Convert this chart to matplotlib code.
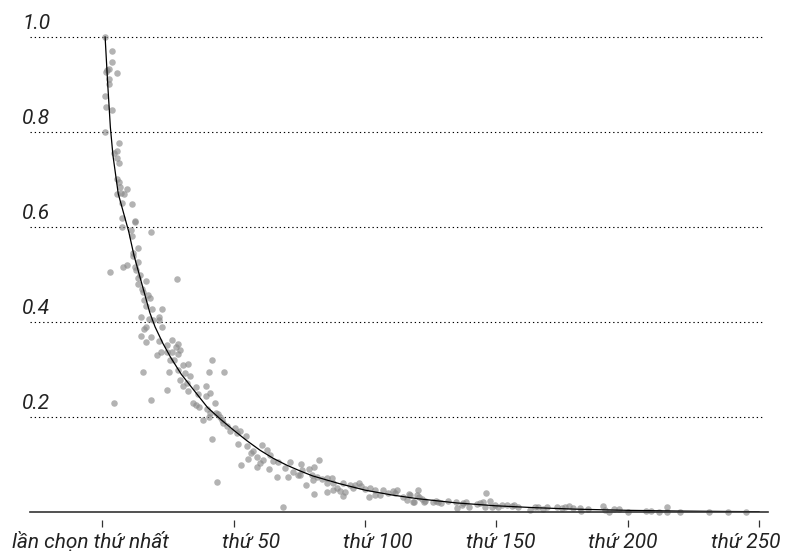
import numpy as np
import matplotlib.pyplot as plt

plt.rcParams['font.family'] = ['Roboto', 'DejaVu Sans']

# duong cong (gia tri doc tu hinh)
curve_x = [1, 2, 3, 4, 5, 6, 8, 10, 12, 14, 16, 18, 20, 23, 26, 30, 35, 40, 45, 50,
           55, 60, 65, 70, 75, 80, 90, 100, 110, 120, 135, 150, 165, 180, 200, 220, 240, 250]
curve_y = [1.00, 0.90, 0.81, 0.75, 0.71, 0.67, 0.63, 0.59, 0.54, 0.50, 0.46, 0.42, 0.39,
           0.355, 0.325, 0.29, 0.255, 0.22, 0.195, 0.172, 0.150, 0.130, 0.113, 0.099,
           0.087, 0.076, 0.060, 0.046, 0.036, 0.028, 0.019, 0.013, 0.009, 0.006, 0.0035,
           0.002, 0.001, 0.0007]

# cac diem quan sat
point_x = [1, 3.5, 3.5, 1.6, 1.3, 2.6, 5.4, 2.5, 2.5, 1, 1.3, 3.5, 1, 6.4, 5.4, 4.5,
           5.6, 6.4, 5.4, 6.4, 9.5, 6.7, 5.6, 6.9, 8.3, 7.3, 11.4, 7.5, 12.4, 12.4, 7.3,
           10.7, 18.5, 11.1, 11.7, 11.5, 13.4, 13.4, 7.7, 9.5, 2.9, 12.4, 12.6,
           14.3, 13.4, 13.6, 16.6, 28.5, 15.2, 15.5, 17.2, 18.1, 15.9, 16.6, 19.0, 22.5,
           14.5, 17.8, 19.3, 21.5, 21.5, 16.6, 15.9, 22.5, 14.5, 18.5, 16.4, 21.6,
           26.3, 24.4, 28.6, 28.0, 29.5, 20.6, 22.2, 24.4, 26.5, 28.6, 25.7, 27.2,
           30.5, 32.4, 15.5, 25.4, 28.9, 31.4, 33.3, 29.5, 30.8, 32.3, 35.6, 39.4,
           41.6, 40.6, 24.4, 32.7, 36.5, 39.4, 40.9, 34.3, 35.6, 36.9, 4.4, 18.5,
           39.7, 40.9, 42.8, 43.3,
           46.4, 44.1, 44.7, 45.4, 38.4, 40.7, 46.0, 47.3, 48.6, 50.5, 52.4, 51.3,
           54.6, 51.7, 41.6, 55.1, 56.4, 57.4, 58.7, 60.6, 62.5, 55.5, 58.7, 60.0,
           61.2, 63.8, 65.0, 67.0, 52.6, 63.5, 66.6, 69.5, 70.8, 72.7, 74.6, 43.5, 68.6,
           71.4, 75.6, 75.9, 75.2, 77.5, 78.8, 79.7, 80.7, 80.0, 81.6, 82.6, 80.7,
           83.5, 85.6, 85.4, 87.3, 87.9, 85.6, 87.9, 89.2, 90.4, 91.7, 92.3, 91.7,
           94.3, 95.5, 97.7, 98.4, 96.2, 100.0, 101.6, 101.9, 103.8, 103.8, 105.7, 106.9,
           108.8, 110.7, 111.4, 112.0, 114.5, 115.8, 116.8, 118.4, 120.3, 120.6,
           117.1, 118.6, 119.6, 121.6, 122.4, 122.8, 125.7, 127.0, 127.9, 128.8, 131.7,
           134.6, 134.9, 136.8, 137.4, 138.4, 139.7, 142.5, 143.8, 145.0, 146.0, 145.7,
           147.6, 148.2, 149.5, 150.7, 152.0, 153.9, 155.8, 156.7, 158.3,
           162.8, 164.7, 166.0, 167.9, 169.4, 173.0, 174.9, 176.1,
           177.8, 179.2, 181.8, 182.1, 185.0, 190.7, 191.4, 193.0, 194.8, 196.8, 200.0,
           207.0, 208.8, 211.9, 214.8, 214.8, 219.9, 231.1, 238.1, 245.0]
point_y = [1.0, 0.971, 0.947, 0.93, 0.926, 0.932, 0.925, 0.911, 0.901, 0.875, 0.853,
           0.846, 0.80, 0.776, 0.761, 0.756, 0.745, 0.734, 0.70, 0.695, 0.68, 0.685,
           0.669, 0.671, 0.669, 0.651, 0.648, 0.618, 0.613, 0.611, 0.60,
           0.594, 0.59, 0.58, 0.545, 0.539, 0.555, 0.527, 0.516, 0.521, 0.506, 0.516,
           0.509, 0.499, 0.492, 0.481, 0.486, 0.49, 0.469, 0.464, 0.457, 0.45, 0.446,
           0.434, 0.427, 0.427, 0.411, 0.406, 0.404, 0.411, 0.404, 0.389, 0.385, 0.389,
           0.371, 0.368, 0.358, 0.359, 0.362, 0.352, 0.354, 0.347, 0.341, 0.331, 0.337,
           0.337, 0.337, 0.332, 0.32, 0.32, 0.309, 0.311, 0.295, 0.294, 0.299, 0.292,
           0.286, 0.278, 0.265, 0.272, 0.264, 0.265, 0.32, 0.295, 0.257, 0.255, 0.248,
           0.244, 0.25, 0.229, 0.225, 0.222, 0.23, 0.236, 0.216, 0.208, 0.229, 0.209,
           0.295, 0.206, 0.199, 0.194, 0.194, 0.199, 0.188, 0.18, 0.171, 0.176, 0.171,
           0.166, 0.159, 0.143, 0.153, 0.139, 0.124, 0.129, 0.116, 0.141, 0.131, 0.111,
           0.094, 0.104, 0.109, 0.12, 0.108, 0.106, 0.099, 0.09, 0.074, 0.092, 0.074,
           0.085, 0.078, 0.064, 0.011,
           0.106, 0.10, 0.088, 0.078, 0.057, 0.09, 0.078, 0.094, 0.067, 0.074, 0.109,
           0.038, 0.069, 0.071, 0.06, 0.071, 0.06, 0.043, 0.046, 0.05, 0.045, 0.06,
           0.043, 0.034, 0.057, 0.05, 0.06, 0.055, 0.057, 0.048, 0.031, 0.05, 0.046,
           0.036, 0.036, 0.046, 0.041, 0.045, 0.041, 0.046, 0.031, 0.025, 0.038, 0.022,
           0.046, 0.032,
           0.036, 0.02, 0.036, 0.027, 0.02, 0.024, 0.022, 0.024, 0.02, 0.018, 0.024,
           0.022, 0.008, 0.015, 0.018, 0.022, 0.011, 0.017, 0.018, 0.02, 0.039, 0.011,
           0.024, 0.011, 0.015, 0.011, 0.015, 0.015, 0.013, 0.015, 0.011,
           0.004, 0.011, 0.01, 0.006, 0.011, 0.011, 0.008, 0.01,
           0.013, 0.008, 0.008, 0.003, 0.006, 0.013, 0.004, 0.001, 0.006, 0.006, 0.001,
           0.003, 0.003, 0.001, 0.01, 0.001, 0.0, 0.001, 0.001, 0.001]

x_ticks = [0, 50, 100, 150, 200, 250]
x_labels = ['lần chọn thứ nhất', 'thứ 50', 'thứ 100', 'thứ 150', 'thứ 200', 'thứ 250']
# nhan truc x khong nam dung giua vach chia trong hinh goc
x_label_pos = [-4.4, 56.5, 104.9, 151.7, 198.2, 245.0]
y_grid = [0.2, 0.4, 0.6, 0.8, 1.0]
y_labels = ['0.2', '0.4', '0.6', '0.8', '1.0']

fig = plt.figure(figsize=(7.86, 5.54), dpi=100)
ax = fig.add_axes([30 / 786, 42 / 554, 738 / 786, 502 / 554])
ax.set_xlim(-27.6, 253.4)
ax.set_ylim(0, 1.0568)

# duong luoi cham
ax.hlines(y_grid, -27.6, 251.1, colors='black', linewidth=0.8,
          linestyles=(0, (1.2, 2.6)), zorder=1)
for v, lab in zip(y_grid, y_labels):
    ax.annotate(lab, xy=(22 / 786, v), xycoords=('figure fraction', 'data'),
                xytext=(0, 6), textcoords='offset points', ha='left', va='baseline',
                fontsize=15, fontstyle='italic', color='#222222')

ax.scatter(point_x, point_y, s=22, color='#8a8a8a', alpha=0.65, linewidths=0,
           zorder=2, clip_on=False)
ax.plot(curve_x, curve_y, color='black', linewidth=0.9, zorder=3)

# truc hoanh
ax.axhline(0, color='#333333', linewidth=1.2, zorder=4, clip_on=False)
for s in ['top', 'right', 'left', 'bottom']:
    ax.spines[s].set_visible(False)
ax.spines['bottom'].set_position(('outward', 6))
ax.set_yticks([])
ax.set_xticks(x_ticks, [''] * len(x_ticks))
ax.tick_params(axis='x', length=5, width=0.9, color='#333333')
for pos, lab in zip(x_label_pos, x_labels):
    ax.annotate(lab, xy=(pos, 0), xycoords=('data', 'axes fraction'),
                xytext=(0, -26), textcoords='offset points', ha='center',
                va='baseline', fontsize=15, fontstyle='italic', color='#222222')

plt.savefig('out.png', dpi=100)
